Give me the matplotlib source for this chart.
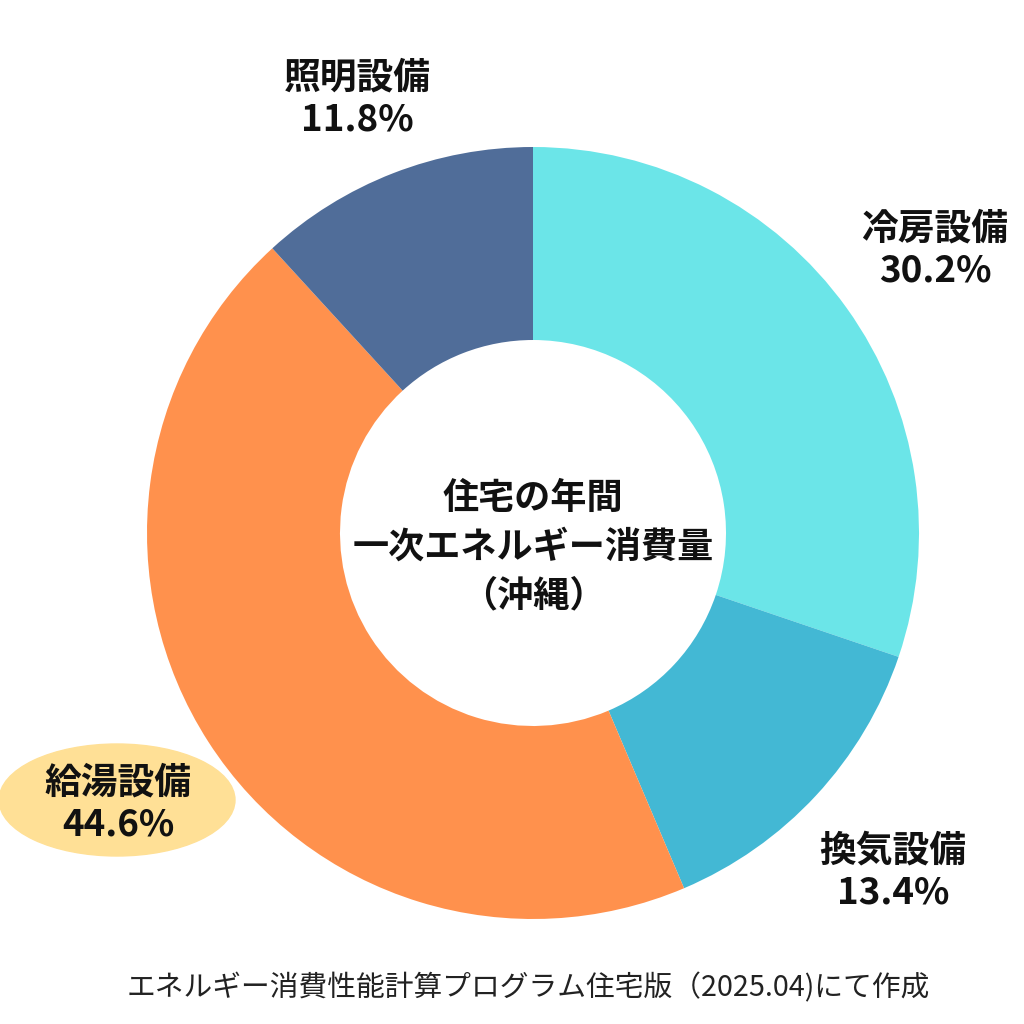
import matplotlib
matplotlib.use('Agg')
from matplotlib import pyplot as plt
from matplotlib.patches import Ellipse

plt.rcParams['font.family'] = ['Noto Sans CJK JP', 'DejaVu Sans']

# data (clockwise from top)
labels = ['冷房設備', '換気設備', '給湯設備', '照明設備']
shares = [30.2, 13.4, 44.6, 11.8]
colors = ['#6be5e8', '#43b8d4', '#ff914d', '#506d99']

# label positions in pixels (x, y from top)
label_pos = [(935, 250), (893, 872), (118, 804), (357, 99)]

center_title = '住宅の年間\n一次エネルギー消費量\n（沖縄）'
source = 'エネルギー消費性能計算プログラム住宅版（2025.04)にて作成'

fig = plt.figure(figsize=(10.24, 10.24), dpi=100)
ax = fig.add_axes([0, 0, 1, 1])

cx, cy = 533, 1024 - 533
ax.pie(shares, colors=colors, startangle=90, counterclock=False,
       radius=386, center=(cx, cy), frame=True,
       wedgeprops=dict(width=193, linewidth=0))
ax.set_xlim(0, 1024)
ax.set_ylim(0, 1024)
ax.set_aspect('equal')
ax.axis('off')

# highlight behind the biggest share
ax.add_patch(Ellipse((117, 1024 - 800), 236, 112, color='#ffe096', zorder=1))

for lab, val, (px, py) in zip(labels, shares, label_pos):
    ax.text(px, 1024 - py, lab + '\n' + f'{val:.1f}%', ha='center', va='center',
            fontsize=26.5, fontweight='bold', color='#111111', linespacing=1.2, zorder=3)

ax.text(cx, 1024 - 547, center_title, ha='center', va='center', fontsize=26,
        fontweight='bold', color='#111111', linespacing=1.4, zorder=3)

ax.text(528, 1024 - 988, source, ha='center', va='center', fontsize=20.7,
        color='#222222', zorder=3)

fig.savefig('out.png', dpi=100, facecolor='white')
